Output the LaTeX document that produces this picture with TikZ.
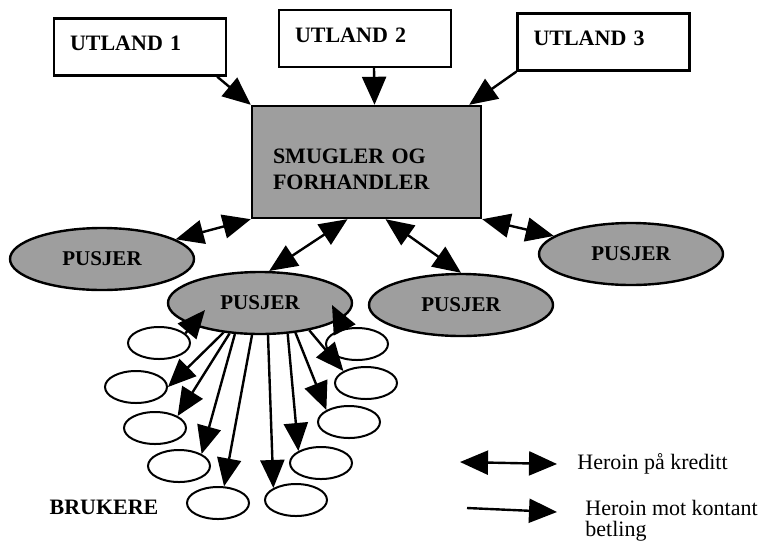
\documentclass[tikz,border=0pt]{standalone}
\usepackage{fontspec}
\setmainfont{Liberation Serif}
\usetikzlibrary{arrows.meta,shapes.geometric}

\begin{document}
\begin{tikzpicture}[x=0.5pt, y=-0.5pt,
    land/.style={draw, line width=1.2pt, fill=white, minimum width=86pt, minimum height=28.5pt,
      inner xsep=8pt, text width=70pt, text depth=3.5pt, align=left, font=\bfseries\fontsize{11}{13}\selectfont},
    smugbox/.style={draw, line width=1.2pt, fill=black!38, minimum width=114.5pt, minimum height=56pt,
      inner xsep=10.5pt, text width=93.5pt, text depth=6pt, align=left, font=\bfseries\fontsize{11}{13}\selectfont},
    pusjer/.style={ellipse, draw, line width=1.2pt, fill=black!38, minimum width=92pt, minimum height=31pt,
      inner sep=0pt, font=\bfseries\fontsize{10.5}{12}\selectfont},
    bruker/.style={ellipse, draw, line width=1pt, fill=white, minimum width=31pt, minimum height=16pt, inner sep=0pt},
    cash/.style={line width=1.2pt, -{Triangle[length=14pt,width=12pt]}},
    credit/.style={line width=1.2pt, {Triangle[length=14pt,width=12pt]}-{Triangle[length=14pt,width=12pt]}}]
      \useasboundingbox (0,0) rectangle (763,541);
      \node[land] (ut1) at (140,47) {UTLAND 1};
      \node[land] (ut2) at (365,38.5) {UTLAND 2};
      \node[land] (ut3) at (603.5,42) {UTLAND 3};
      \node[smugbox] (smug) at (366.5,162) {SMUGLER OG\\FORHANDLER};
      \node[pusjer] (lp) at (102,259) {PUSJER};
      \node[pusjer] (mp) at (260,303) {PUSJER};
      \node[pusjer] (mrp) at (461,305) {PUSJER};
      \node[pusjer] (rp) at (631,254) {PUSJER};
      \foreach \n/\x/\y in {l1/159/343, l2/136/387, l3/155/428, l4/179/466, l5/218/503,
          r1/357/344, r2/366/383, r3/349/422, r4/321/463, r5/296/500}
        \node[bruker] (\n) at (\x,\y) {};
      \draw[cash] ([xshift=-5pt]ut1.south east) -- (smug.north west);
      \draw[cash] ([xshift=4.5pt]ut2.south) -- ([xshift=4pt]smug.north);
      \draw[cash] (ut3.south west) -- ([xshift=-6.5pt]smug.north east);
      \draw[credit] (smug.south west) -- (lp);
      \draw[credit] ([xshift=-9.5pt]smug.south) -- (mp.74);
      \draw[credit] ([xshift=9.5pt]smug.south) -- (mrp.north);
      \draw[credit] (smug.south east) -- (rp);
      \draw[cash] (l1.20) -- ([xshift=-27.5pt,yshift=-3.5pt]mp.center);
      \draw[cash] (r1.130) -- ([xshift=36pt,yshift=-1pt]mp.center);
      \foreach \a/\u/\b in {219/l2/east, 225/l3/north east, 231/l4/north east, 256/l5/70,
          284/r5/north west, 312/r4/north west, 320/r3/north west, 331/r2/north west}
        \draw[cash] (mp.\a) -- (\u.\b);
      \node[font=\bfseries\fontsize{11}{13}\selectfont] (bru) at (104,507) {BRUKERE};
      \node[anchor=west, inner sep=0pt, font=\fontsize{11}{13}\selectfont] (kred) at (577,464) {Heroin på kreditt};
      \node[anchor=north west, inner sep=0pt, align=left, font=\fontsize{11}{10.5}\selectfont] (kont) at (585,500)
        {Heroin mot kontant\\betling};
      \coordinate (k1) at (460,462);
      \coordinate (c1) at (467,508);
      \draw[credit] (k1) -- ([xshift=-10pt]kred.west);
      \draw[cash] (c1) -- ([xshift=-14pt,yshift=-2pt]kont.north west |- c1);
    \end{tikzpicture}
\end{document}
